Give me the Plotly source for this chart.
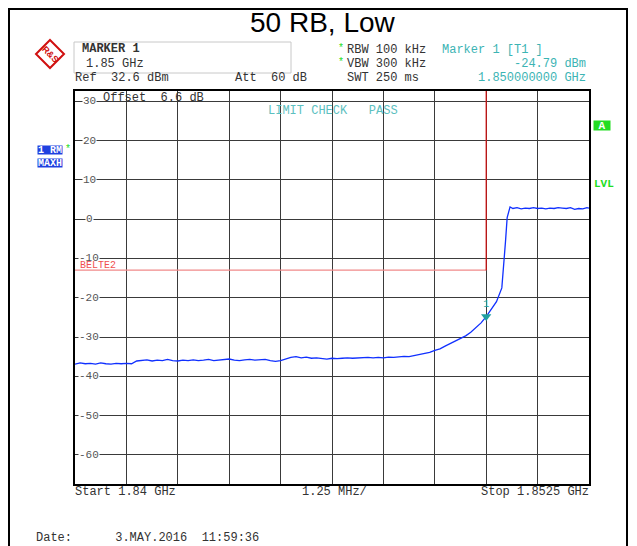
# ======================================
# SPECTRUM PLOT - 50 RB, Low
# ======================================

import plotly.graph_objects as go

# Trace 1 (RM / MAXH): frequency in GHz, level in dBm
freq_ghz = [
    1.840000, 1.840125, 1.840250, 1.840375, 1.840500, 1.840625, 1.840750, 1.840875,
    1.841000, 1.841125, 1.841250, 1.841375, 1.841500, 1.841625, 1.841750, 1.841875,
    1.842000, 1.842125, 1.842250, 1.842375, 1.842500, 1.842625, 1.842750, 1.842875,
    1.843000, 1.843125, 1.843250, 1.843375, 1.843500, 1.843625, 1.843750, 1.843875,
    1.844000, 1.844125, 1.844250, 1.844375, 1.844500, 1.844625, 1.844750, 1.844875,
    1.845000, 1.845125, 1.845250, 1.845375, 1.845500, 1.845625, 1.845750, 1.845875,
    1.846000, 1.846125, 1.846250, 1.846375, 1.846500, 1.846625, 1.846750, 1.846875,
    1.847000, 1.847125, 1.847250, 1.847375, 1.847500, 1.847625, 1.847750, 1.847875,
    1.848000, 1.848125, 1.848250, 1.848375, 1.848500, 1.848625, 1.848750, 1.848875,
    1.849000, 1.849125, 1.849250, 1.849375, 1.849500, 1.849625, 1.849750, 1.849875,
    1.850000, 1.850125, 1.850250, 1.850380, 1.850430, 1.850470, 1.850510, 1.850580,
    1.850650, 1.850750, 1.850850, 1.850950, 1.851050, 1.851150, 1.851250, 1.851350,
    1.851450, 1.851550, 1.851650, 1.851750, 1.851850, 1.851950, 1.852050, 1.852150,
    1.852250, 1.852350, 1.852450, 1.852500,
]
level_dbm = [
    -36.9, -36.6, -36.8, -36.7, -36.9, -36.6, -36.8, -36.9,
    -36.7, -36.8, -36.7, -36.8, -36.1, -36.0, -35.8, -36.1,
    -35.9, -36.0, -35.7, -36.0, -36.1, -35.9, -36.0, -35.8,
    -36.0, -35.9, -35.7, -36.0, -35.9, -35.8, -35.6, -35.9,
    -36.0, -35.8, -35.7, -35.9, -35.8, -35.7, -36.0, -36.2,
    -36.0, -35.6, -35.2, -35.0, -35.3, -35.1, -35.4, -35.3,
    -35.4, -35.6, -35.4, -35.5, -35.4, -35.3, -35.4, -35.3,
    -35.3, -35.2, -35.3, -35.2, -35.3, -35.1, -35.2, -35.0,
    -34.9, -35.0, -34.7, -34.5, -34.2, -33.9, -33.4, -33.0,
    -32.3, -31.7, -31.0, -30.4, -29.7, -28.8, -27.6, -26.4,
    -24.8, -22.9, -21.0, -17.5, -11.6, -5.6, 0.4, 3.1,
    2.7, 2.9, 2.6, 2.8, 2.7, 2.9, 2.7, 2.8,
    2.6, 2.8, 2.7, 2.9, 2.8, 2.7, 2.9, 2.5,
    2.7, 2.6, 2.9, 2.8,
]

# limit line BELTE2
limit_freq = [1.84, 1.85]
limit_level = [-13.0, -13.0]
edge_freq = [1.85, 1.85]
edge_level = [-13.0, 32.6]

# marker 1
marker_freq = [1.85]
marker_level = [-24.79]

# axes
x_start, x_stop = 1.84, 1.8525
x_div = 0.00125
ref_level = 32.6
y_bottom = ref_level - 100
ytick_vals = [30, 20, 10, 0, -10, -20, -30, -40, -50, -60]
ytick_text = ["30", "20", "10", "0", "-10", "-20", "-30", "-40", "-50", "-60"]

# page has an 8px body margin, figure is sized to fit inside the window
OFF = 8
W, H = 629, 538
L, R, T, B = 67, 48, 83, 62
PW, PH = W - L - R, H - T - B


def px(x):
    # page pixel x -> paper
    return (x - OFF - L) / PW


def py(y):
    # page pixel y -> paper
    return (H - B - (y - OFF)) / PH


MONO = "Liberation Mono, Courier New, monospace"
DARK = "#333333"
TEAL = "#3cb4b4"
GREEN = "#22dd22"
BLUE = "#1f40e0"

fig = go.Figure()

fig.add_trace(go.Scatter(
    x=limit_freq, y=limit_level, mode="lines",
    line=dict(color="#f08a8a", width=1.2), hoverinfo="skip"
))
fig.add_trace(go.Scatter(
    x=edge_freq, y=edge_level, mode="lines",
    line=dict(color="#d41010", width=1.2), hoverinfo="skip"
))
fig.add_trace(go.Scatter(
    x=freq_ghz, y=level_dbm, mode="lines",
    line=dict(color="#1030ff", width=1.3)
))
fig.add_trace(go.Scatter(
    x=marker_freq, y=marker_level, mode="markers+text",
    marker=dict(symbol="triangle-down", size=9, color="#20a0a0"),
    text=["1"], textposition="top center",
    textfont=dict(family=MONO, size=10, color="#20a0a0")
))

annotations = []

# y tick labels drawn on the grid lines
for v, t in zip(ytick_vals, ytick_text):
    annotations.append(dict(
        text=t, x=px(89), y=v, xref="paper", yref="y",
        xanchor="center", yanchor="middle", showarrow=False,
        bgcolor="white", borderpad=0,
        font=dict(family=MONO, size=11, color="#555555")
    ))


def txt(s, x, y, anchor="left", color=DARK, size=12, **kw):
    annotations.append(dict(
        text=s, x=px(x), y=py(y), xref="paper", yref="paper",
        xanchor=anchor, yanchor="middle", showarrow=False,
        font=dict(family=MONO, size=size, color=color), **kw
    ))


# title
annotations.append(dict(
    text="50 RB, Low", x=px(323), y=py(22), xref="paper", yref="paper",
    xanchor="center", yanchor="middle", showarrow=False,
    font=dict(family="Liberation Sans, Arial", size=28, color="black")
))

# header
txt("<b>MARKER 1</b>", 80, 49)
txt("1.85 GHz", 84, 64)
txt("Ref  32.6 dBm", 73, 78)
txt("Att  60 dB", 233, 78)
txt("*", 336, 48, color=GREEN, size=10)
txt("*", 336, 62, color=GREEN, size=10)
txt("RBW 100 kHz", 345, 50)
txt("VBW 300 kHz", 345, 64)
txt("SWT 250 ms", 345, 78)
txt("Marker 1 [T1 ]", 440, 50, color=TEAL)
txt("-24.79 dBm", 588, 64, anchor="right", color=TEAL)
txt("1.850000000 GHz", 588, 78, anchor="right", color=TEAL)

# inside the grid
txt("Offset  6.6 dB", 101, 98)
txt("LIMIT CHECK   PASS", 266, 111, color="#5cc0c0")
txt("BELTE2", 78, 265, color="#f05050", size=10)

# side labels
txt("<b>1 RM</b>", 50, 150, anchor="center", color="white", size=10,
    bgcolor=BLUE, width=24, height=8, borderpad=0)
txt("<b>MAXH</b>", 50, 163, anchor="center", color="white", size=10,
    bgcolor=BLUE, width=24, height=8, borderpad=0)
txt("*", 68, 149, anchor="center", color=GREEN, size=10)
txt("<b>A</b>", 602, 125, anchor="center", color="white", size=11,
    bgcolor=GREEN, width=16, height=9, borderpad=0)
txt("<b>LVL</b>", 592, 184, color=GREEN, size=11)

# footer
txt("Start 1.84 GHz", 73, 492)
txt("1.25 MHz/", 300, 492)
txt("Stop 1.8525 GHz", 591, 492, anchor="right")
txt("Date:      3.MAY.2016  11:59:36", 34, 538)

# logo text
annotations.append(dict(
    text="<b>R&S</b>", x=px(50), y=py(54), xref="paper", yref="paper",
    xanchor="center", yanchor="middle", showarrow=False, textangle=45,
    font=dict(family="Liberation Sans, Arial", size=9, color="#d01010")
))

shapes = [
    # outer border
    dict(type="rect", xref="paper", yref="paper",
         x0=px(9), x1=px(627), y0=py(620), y1=py(9),
         line=dict(color="black", width=2)),
    # marker info box
    dict(type="rect", xref="paper", yref="paper",
         x0=px(74), x1=px(291), y0=py(73), y1=py(42),
         line=dict(color="#c8c8c8", width=1)),
    # logo diamond
    dict(type="path", xref="paper", yref="paper",
         path="M {} {} L {} {} L {} {} L {} {} Z".format(
             px(50), py(40), px(64), py(54), px(50), py(68), px(36), py(54)),
         line=dict(color="#d01010", width=2)),
]

fig.update_layout(
    width=W, height=H,
    margin=dict(l=L, r=R, t=T, b=B),
    paper_bgcolor="white", plot_bgcolor="white",
    showlegend=False,
    annotations=annotations,
    shapes=shapes,
    xaxis=dict(
        range=[x_start, x_stop], tick0=x_start, dtick=x_div,
        showticklabels=False, ticks="", zeroline=False,
        showgrid=True, gridcolor="#3a3a3a", gridwidth=1,
        showline=True, linecolor="black", linewidth=2, mirror=True
    ),
    yaxis=dict(
        range=[y_bottom, ref_level], tickvals=ytick_vals,
        showticklabels=False, ticks="", zeroline=False,
        showgrid=True, gridcolor="#3a3a3a", gridwidth=1,
        showline=True, linecolor="black", linewidth=2, mirror=True
    ),
)

fig.write_html("out.html")
